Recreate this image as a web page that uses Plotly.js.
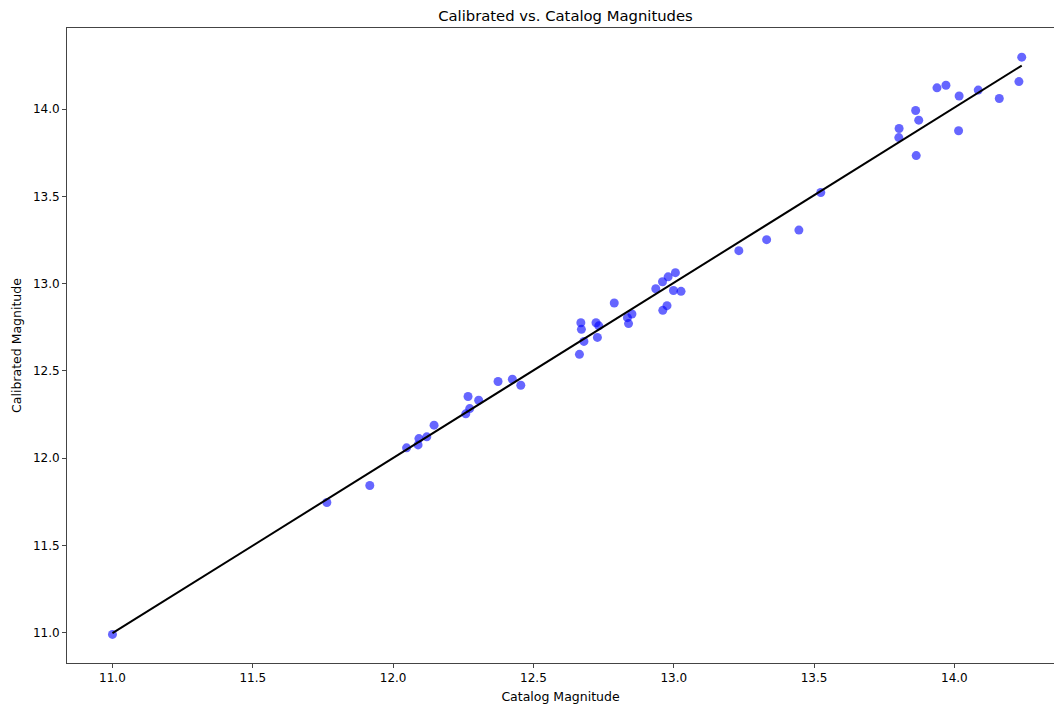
<!DOCTYPE html>
<html>
<head>
<meta charset="utf-8">
<script src="https://cdn.plot.ly/plotly-3.0.1.min.js"></script>
<style>html,body{margin:0;padding:0;background:#fff;}#chart{width:1055px;height:705px;}</style>
</head>
<body>
<div id="chart"></div>
<script>
const catalogMag = [
  11.00, 11.764, 11.917, 12.048, 12.092, 12.089, 12.120, 12.146, 12.259, 12.273,
  12.267, 12.305, 12.374, 12.425, 12.455, 12.664, 12.680, 12.671, 12.669, 12.728,
  12.733, 12.723, 12.788, 12.839, 12.835, 12.851, 12.936, 12.960, 12.980, 13.006,
  12.999, 13.026, 12.961, 12.976, 13.232, 13.331, 13.446, 13.524, 13.802, 13.803,
  13.864, 13.873, 13.862, 13.938, 13.970, 14.017, 14.015, 14.085, 14.160, 14.230,
  14.240
];
const calibratedMag = [
  10.99, 11.746, 11.843, 12.059, 12.112, 12.076, 12.122, 12.189, 12.254, 12.284,
  12.353, 12.332, 12.439, 12.452, 12.418, 12.595, 12.669, 12.738, 12.776, 12.692,
  12.758, 12.776, 12.889, 12.771, 12.805, 12.826, 12.971, 13.011, 13.039, 13.063,
  12.961, 12.956, 12.847, 12.874, 13.189, 13.252, 13.307, 13.522, 13.837, 13.889,
  13.734, 13.937, 13.992, 14.122, 14.137, 14.075, 13.876, 14.109, 14.061, 14.158,
  14.298
];

// least-squares fit line from the data
const n = catalogMag.length;
const mx = catalogMag.reduce((a,b)=>a+b,0)/n;
const my = calibratedMag.reduce((a,b)=>a+b,0)/n;
let sxy=0, sxx=0;
for (let i=0;i<n;i++){ sxy += (catalogMag[i]-mx)*(calibratedMag[i]-my); sxx += (catalogMag[i]-mx)**2; }
const slope = sxy/sxx, intercept = my - slope*mx;
const xs = catalogMag.slice().sort((a,b)=>a-b);
const fitY = xs.map(x => slope*x + intercept);

const fam = 'DejaVu Sans, sans-serif';
const traces = [
  {x: catalogMag, y: calibratedMag, type: 'scatter', mode: 'markers',
   marker: {color: 'rgba(0,0,255,0.6)', size: 9, line: {width: 0}}, showlegend: false},
  {x: xs, y: fitY, type: 'scatter', mode: 'lines',
   line: {color: '#000', width: 2}, showlegend: false}
];
const layout = {
  width: 1055, height: 705,
  margin: {l: 67, r: 1, t: 28, b: 42},
  paper_bgcolor: '#fff', plot_bgcolor: '#fff',
  font: {family: fam, size: 12, color: '#000'},
  title: {text: 'Calibrated vs. Catalog Magnitudes', font: {family: fam, size: 14.8, color: '#000'},
          x: 0.536, xanchor: 'center', y: 1 - 16/705, yref: 'container', yanchor: 'middle'},
  xaxis: {range: [10.838, 14.355], tickvals: [11.0,11.5,12.0,12.5,13.0,13.5,14.0],
          ticktext: ['11.0','11.5','12.0','12.5','13.0','13.5','14.0'],
          showgrid: false, zeroline: false, showline: true, mirror: true, linecolor: '#444', linewidth: 1,
          ticks: 'outside', ticklen: 4, tickcolor: '#444', tickfont: {size: 12},
          title: {text: 'Catalog Magnitude', font: {size: 12.5}, standoff: 7}},
  yaxis: {range: [10.826, 14.465], tickvals: [11.0,11.5,12.0,12.5,13.0,13.5,14.0],
          ticktext: ['11.0','11.5','12.0','12.5','13.0','13.5','14.0'],
          showgrid: false, zeroline: false, showline: true, mirror: false, linecolor: '#444', linewidth: 1,
          ticks: 'outside', ticklen: 4, tickcolor: '#444', tickfont: {size: 12},
          title: {text: 'Calibrated Magnitude', font: {size: 12.5}, standoff: 8}}
};
Plotly.newPlot('chart', traces, layout, {displayModeBar: false, staticPlot: true});
</script>
</body>
</html>
